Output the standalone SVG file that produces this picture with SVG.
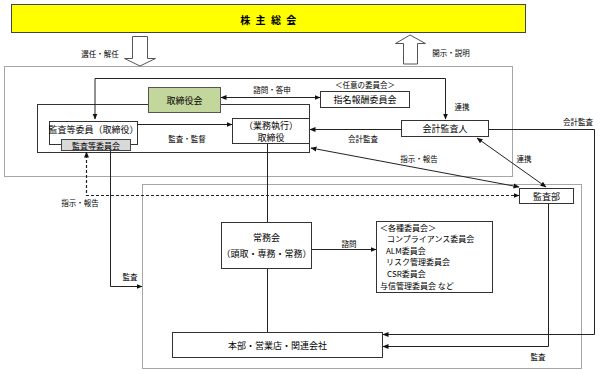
<svg xmlns="http://www.w3.org/2000/svg" width="602" height="374" viewBox="0 0 602 374">
<style>
text{font-family:"Noto Sans CJK JP","Noto Sans CJK SC",sans-serif;fill:#000;text-anchor:middle;dominant-baseline:central}
.n{font-size:9px}
.c{font-size:8px;text-anchor:start}
.s{font-size:7.5px}
.box{fill:#fff;stroke:#333;stroke-width:1}
.grp{fill:none;stroke:#a6a6a6;stroke-width:1}
.ln{fill:none;stroke:#222;stroke-width:1}
.ds{fill:none;stroke:#222;stroke-width:1.2;stroke-dasharray:3 2}
.hol{fill:#fff;stroke:#555;stroke-width:1}
</style>
<defs>
<marker id="a" markerWidth="6" markerHeight="6" refX="5.5" refY="3" orient="auto-start-reverse" markerUnits="userSpaceOnUse">
<path d="M0,0.5 L6,3 L0,5.5 Z" fill="#111"/>
</marker>
</defs>
<rect width="602" height="374" fill="#fff"/>

<g id="groups">
<rect class="grp" x="4.5" y="66.5" width="508" height="110"/>
<rect class="grp" x="142.5" y="184.5" width="439" height="184"/>
<rect x="37.5" y="104.5" width="272" height="48" fill="none" stroke="#333"/>
</g>

<g id="shareholders">
<rect x="11.5" y="4.5" width="514" height="28" fill="#ffff00" stroke="#444"/>
<text x="269" y="19" style="font-size:10px;font-weight:bold;letter-spacing:1.5px">株 主 総 会</text>
</g>

<g id="hollow-arrows">
<path class="hol" d="M132.5,36.5 H147.5 V58.5 H155.5 L140,66 L124.5,58.5 H132.5 Z"/>
<text class="s" x="100" y="53">選任・解任</text>
<path class="hol" d="M403.5,64 V43.5 H395.5 L410,35 L425.5,43.5 H417.5 V64 Z"/>
<text class="s" x="451" y="52">開示・説明</text>
</g>

<g id="connectors">
<polyline class="ln" points="95,119 95,78.5 445.5,78.5 445.5,119" marker-start="url(#a)" marker-end="url(#a)"/>
<line class="ln" x1="221" y1="97.5" x2="320" y2="97.5" marker-start="url(#a)" marker-end="url(#a)"/>
<line class="ln" x1="138" y1="124.5" x2="232" y2="124.5" marker-end="url(#a)"/>
<line class="ln" x1="401" y1="129.5" x2="310" y2="129.5" marker-end="url(#a)"/>
<line class="ln" x1="311" y1="148" x2="519" y2="187" marker-start="url(#a)" marker-end="url(#a)"/>
<line class="ln" x1="477" y1="138" x2="546" y2="187" marker-start="url(#a)" marker-end="url(#a)"/>
<polyline class="ln" points="488,129.5 594.5,129.5 594.5,334.5 383,334.5" marker-end="url(#a)"/>
<polyline class="ln" points="548.5,203 548.5,346.5 383,346.5" marker-end="url(#a)"/>
<polyline class="ds" points="519,195.5 86.5,195.5 86.5,152" marker-start="url(#a)" marker-end="url(#a)"/>
<polyline class="ln" points="110.5,151 110.5,286.5 142,286.5" marker-end="url(#a)"/>
<line class="ln" x1="267.5" y1="143" x2="267.5" y2="222"/>
<line class="ln" x1="267.5" y1="269" x2="267.5" y2="332"/>
<line class="ln" x1="312" y1="249.5" x2="376" y2="249.5" marker-end="url(#a)"/>
<text class="s" x="272" y="89">諮問・答申</text>
<text class="s" x="462" y="106">連携</text>
<text class="s" x="187" y="138">監査・監督</text>
<text class="s" x="363" y="138">会計監査</text>
<text class="s" x="578" y="121">会計監査</text>
<text class="s" x="419" y="158">指示・報告</text>
<text class="s" x="524" y="158">連携</text>
<text class="s" x="80" y="202">指示・報告</text>
<text class="s" x="130" y="276">監査</text>
<text class="s" x="349" y="243">諮問</text>
<text class="s" x="538" y="356">監査</text>
</g>

<g id="board">
<rect x="148.5" y="87.5" width="72" height="25" fill="#c3d69b" stroke="#555"/>
<text class="n" x="184.5" y="100">取締役会</text>
</g>

<g id="nomination">
<text class="s" x="365" y="84">＜任意の委員会＞</text>
<rect class="box" x="320.5" y="91.5" width="89" height="16"/>
<text class="n" x="365" y="99.5">指名報酬委員会</text>
</g>

<g id="audit-member">
<rect class="box" x="49.5" y="121.5" width="88" height="23"/>
<text class="n" x="93.5" y="129">監査等委員（取締役）</text>
</g>

<g id="audit-committee">
<rect x="61.5" y="139.5" width="69" height="11" fill="#d9d9d9" stroke="#444"/>
<text class="s" x="96" y="145" style="font-size:8px">監査等委員会</text>
</g>

<g id="executive">
<rect class="box" x="232.5" y="118.5" width="77" height="25"/>
<text class="n" x="271" y="125">（業務執行）</text>
<text class="n" x="271" y="137">取締役</text>
</g>

<g id="auditor">
<rect class="box" x="401.5" y="120.5" width="87" height="16"/>
<text class="n" x="445" y="128.5">会計監査人</text>
</g>

<g id="audit-dept">
<rect class="box" x="519.5" y="188.5" width="54" height="15"/>
<text class="n" x="546.5" y="196">監査部</text>
</g>

<g id="managing">
<rect class="box" x="221.5" y="222.5" width="90" height="46"/>
<text class="n" x="266.5" y="237">常務会</text>
<text class="n" x="266.5" y="253">（頭取・専務・常務）</text>
</g>

<g id="committees">
<rect class="box" x="376.5" y="221.5" width="116" height="71"/>
<text class="c" x="380" y="227">＜各種委員会＞</text>
<text class="c" x="387" y="238.6">コンプライアンス委員会</text>
<text class="c" x="386" y="250.2">ALM委員会</text>
<text class="c" x="386" y="261.8">リスク管理委員会</text>
<text class="c" x="387" y="273.4">CSR委員会</text>
<text class="c" x="380" y="285">与信管理委員会 など</text>
</g>

<g id="branches">
<rect class="box" x="172.5" y="332.5" width="210" height="25"/>
<text class="n" x="277.5" y="345">本部・営業店・関連会社</text>
</g>
</svg>
